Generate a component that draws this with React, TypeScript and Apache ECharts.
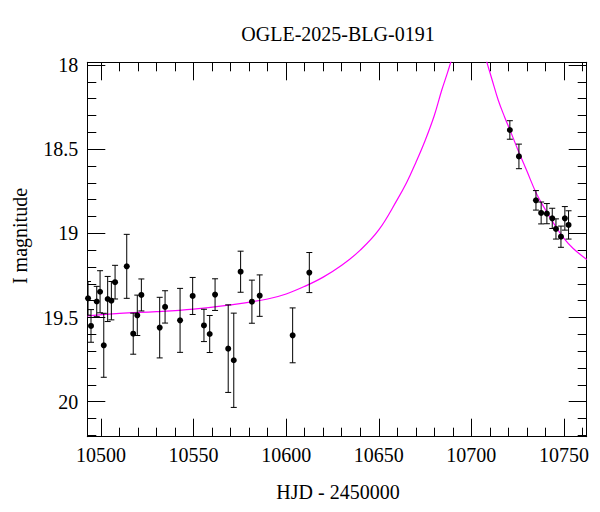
import React, { useEffect, useRef } from "react";
import * as echarts from "echarts";

// Observations: HJD - 2450000, I magnitude, error
const hjd = [
  10493, 10494.6, 10497.7, 10499.5, 10501.5, 10503.6, 10505.6, 10507.6, 10513.9,
  10517.4, 10519.6, 10521.8, 10531.7, 10534.6, 10542.7, 10549.5, 10555.6, 10558.7,
  10561.6, 10568.7, 10571.7, 10575.4, 10581.5, 10585.7, 10603.5, 10612.5, 10720.8,
  10725.7, 10734.9, 10737.7, 10740.8, 10743.7, 10745.7, 10748.4, 10750.5, 10752.5,
];
const imag = [
  19.386, 19.55, 19.405, 19.347, 19.665, 19.39, 19.4, 19.29, 19.196,
  19.596, 19.487, 19.366, 19.56, 19.437, 19.517, 19.372, 19.547, 19.598,
  19.364, 19.685, 19.754, 19.228, 19.406, 19.37, 19.606, 19.233, 18.386,
  18.543, 18.804, 18.879, 18.883, 18.911, 18.974, 19.02, 18.911, 18.95,
];
const ierr = [
  0.1, 0.097, 0.09, 0.125, 0.19, 0.134, 0.114, 0.1, 0.19,
  0.122, 0.12, 0.095, 0.18, 0.096, 0.19, 0.11, 0.096, 0.11,
  0.094, 0.26, 0.28, 0.122, 0.128, 0.123, 0.163, 0.119, 0.055,
  0.073, 0.058, 0.065, 0.06, 0.06, 0.06, 0.063, 0.07, 0.084,
];

// Model curve
const modelHjd = [
  10492.6, 10510, 10530, 10550, 10570, 10590, 10600, 10610, 10620, 10630, 10640,
  10650, 10660, 10665, 10670, 10675, 10680, 10684, 10687, 10689, 10692, 10698.7,
  10705, 10708.4, 10711, 10714.5, 10718, 10721, 10725, 10730, 10735, 10740, 10745,
  10750, 10755, 10762.3,
];
const modelMag = [
  19.49, 19.475, 19.465, 19.45, 19.425, 19.39, 19.36, 19.315, 19.26, 19.19, 19.1,
  18.98, 18.8, 18.7, 18.58, 18.45, 18.3, 18.15, 18.05, 17.98, 17.88, 17.72,
  17.85, 17.984, 18.08, 18.208, 18.31, 18.39, 18.5, 18.63, 18.76, 18.86, 18.95,
  19.03, 19.09, 19.155,
];

const titleText = "OGLE-2025-BLG-0191";
const xTitle = "HJD - 2450000";
const yTitle = "I magnitude";

export default function App() {
  const ref = useRef<HTMLDivElement>(null);

  useEffect(() => {
    if (!ref.current) return;
    const chart = echarts.init(ref.current, null, { renderer: "svg" });
    const FONT = "Liberation Serif";
    const X_MIN = 10492.6;
    const X_MAX = 10762.3;
    const Y_MIN = 17.984;
    const Y_MAX = 20.208;

    const points = hjd.map((t, i) => [t, imag[i]]);
    const bars = hjd.map((t, i) => [t, imag[i], imag[i] - ierr[i], imag[i] + ierr[i]]);
    const model = modelHjd.map((t, i) => [t, modelMag[i]]);

    const tickCommon = {
      axisLine: { show: true, onZero: false, lineStyle: { color: "#000", width: 1 } },
      axisTick: { show: true, inside: true, length: 18, lineStyle: { color: "#000", width: 1 } },
      minorTick: { show: true, splitNumber: 5, length: 9, lineStyle: { color: "#000", width: 1 } },
      splitLine: { show: false },
      minorSplitLine: { show: false },
    };
    const labelCommon = {
      color: "#000",
      fontFamily: FONT,
      fontSize: 20,
      showMinLabel: false,
      showMaxLabel: false,
      formatter: (v: number) => String(v),
    };

    chart.setOption({
      animation: false,
      backgroundColor: "#fff",
      grid: {
        left: 87.3,
        top: 62.3,
        right: 13.3,
        bottom: 75.3,
        containLabel: false,
        outerBoundsMode: "none",
      },
      xAxis: [
        {
          type: "value",
          position: "bottom",
          min: X_MIN,
          max: X_MAX,
          ...tickCommon,
          axisLabel: { ...labelCommon, margin: 8 },
        },
        {
          type: "value",
          position: "top",
          min: X_MIN,
          max: X_MAX,
          ...tickCommon,
          axisLabel: { show: false },
        },
      ],
      yAxis: [
        {
          type: "value",
          position: "left",
          inverse: true,
          min: Y_MIN,
          max: Y_MAX,
          ...tickCommon,
          axisLabel: { ...labelCommon, margin: 9 },
        },
        {
          type: "value",
          position: "right",
          inverse: true,
          min: Y_MIN,
          max: Y_MAX,
          ...tickCommon,
          axisLabel: { show: false },
        },
      ],
      graphic: [
        {
          type: "text",
          x: 338,
          y: 34,
          style: {
            text: titleText,
            fontFamily: FONT,
            fontSize: 20,
            fill: "#000",
            align: "center",
            verticalAlign: "middle",
          },
        },
        {
          type: "text",
          x: 338,
          y: 492,
          style: {
            text: xTitle,
            fontFamily: FONT,
            fontSize: 20,
            fill: "#000",
            align: "center",
            verticalAlign: "middle",
          },
        },
        {
          type: "text",
          x: 20,
          y: 236,
          rotation: Math.PI / 2,
          style: {
            text: yTitle,
            fontFamily: FONT,
            fontSize: 20,
            fill: "#000",
            align: "center",
            verticalAlign: "middle",
          },
        },
      ],
      series: [
        {
          type: "line",
          name: "model",
          data: model,
          xAxisIndex: 0,
          yAxisIndex: 0,
          showSymbol: false,
          symbol: "none",
          smooth: 0.4,
          clip: true,
          lineStyle: { color: "#ff00ff", width: 1.2 },
          z: 1,
        },
        {
          type: "custom",
          name: "errors",
          data: bars,
          xAxisIndex: 0,
          yAxisIndex: 0,
          encode: { x: 0, y: 1 },
          clip: true,
          z: 2,
          renderItem: (params: any, api: any) => {
            const x = api.value(0);
            const top = api.coord([x, api.value(2)]);
            const bot = api.coord([x, api.value(3)]);
            const cw = 3;
            const style = { stroke: "#000", lineWidth: 1 };
            return {
              type: "group",
              children: [
                { type: "line", shape: { x1: top[0], y1: top[1], x2: bot[0], y2: bot[1] }, style },
                { type: "line", shape: { x1: top[0] - cw, y1: top[1], x2: top[0] + cw, y2: top[1] }, style },
                { type: "line", shape: { x1: bot[0] - cw, y1: bot[1], x2: bot[0] + cw, y2: bot[1] }, style },
              ],
            };
          },
        },
        {
          type: "scatter",
          name: "data",
          data: points,
          xAxisIndex: 0,
          yAxisIndex: 0,
          symbol: "circle",
          symbolSize: 6,
          itemStyle: { color: "#000", opacity: 1 },
          z: 3,
        },
      ],
    });

    return () => chart.dispose();
  }, []);

  return (
    <div
      ref={ref}
      style={{ position: "fixed", left: 0, top: 0, width: 600, height: 512, background: "#fff" }}
    />
  );
}
